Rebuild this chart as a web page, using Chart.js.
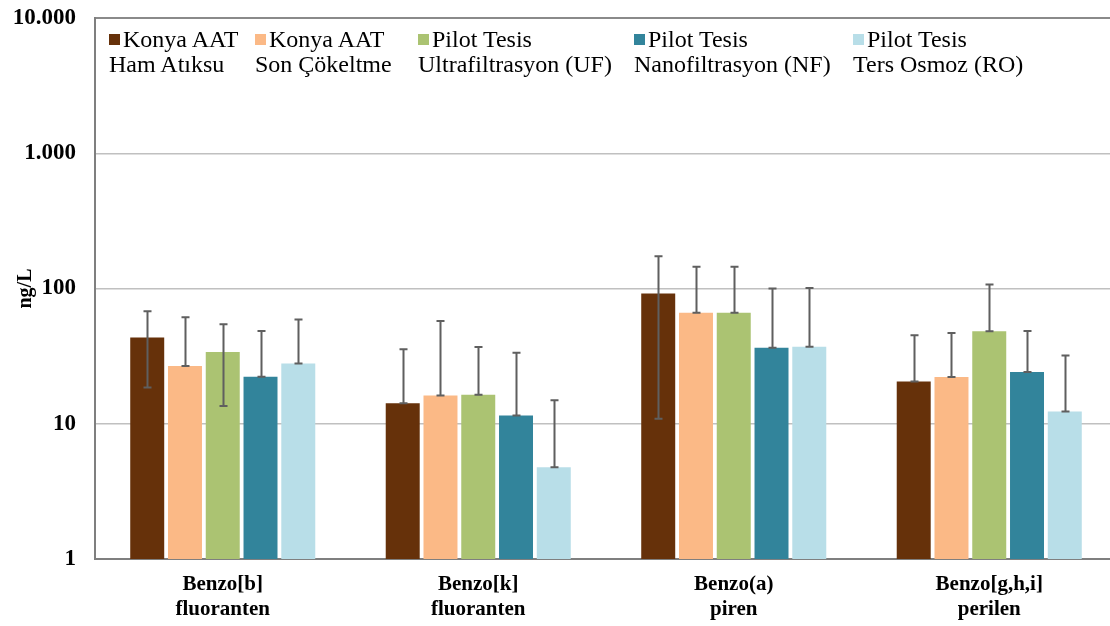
<!DOCTYPE html>
<html>
<head>
<meta charset="utf-8">
<script src="https://cdn.jsdelivr.net/npm/chart.js@4"></script>
<style>
  html, body { margin: 0; padding: 0; background: #fff; overflow: hidden; }
  #wrap { position: relative; width: 1110px; height: 626px; overflow: hidden; }
  canvas { position: absolute; left: 0; top: 0; }
  .lg { position: absolute; font-family: "Liberation Serif", "Times New Roman", serif; font-size: 24px; line-height: 25px; color: #000; white-space: nowrap; }
  .sw { display: inline-block; width: 11px; height: 11px; margin-right: 3px; vertical-align: 2px; }
</style>
</head>
<body>
<div id="wrap">
  <canvas id="c" width="1117" height="626" style="width:1117px;height:626px"></canvas>
</div>
<script>
// ---- data ----
const categories = [["Benzo[b]", "fluoranten"], ["Benzo[k]", "fluoranten"], ["Benzo(a)", "piren"], ["Benzo[g,h,i]", "perilen"]];
const seriesLine1 = ["Konya AAT", "Konya AAT", "Pilot Tesis", "Pilot Tesis", "Pilot Tesis"];
const seriesLine2 = ["Ham Atıksu", "Son Çökeltme", "Ultrafiltrasyon (UF)", "Nanofiltrasyon (NF)", "Ters Osmoz (RO)"];
const hamAtiksu   = [43.5, 14.2, 91.8, 20.5];
const sonCokeltme = [26.7, 16.2, 66.2, 22.2];
const ultraFilt   = [33.9, 16.4, 66.2, 48.2];
const nanoFilt    = [22.3, 11.5, 36.5, 24.1];
const tersOsmoz   = [27.9, 4.77, 37.1, 12.3];
// error bar ends (upper / lower; null = lower end hidden at bar top)
const hamAtiksuHi   = [68, 35.6, 173, 45.2];
const hamAtiksuLo   = [18.5, null, 10.9, null];
const sonCokeltmeHi = [61.4, 57.4, 144.6, 46.8];
const sonCokeltmeLo = [null, null, null, null];
const ultraFiltHi   = [54.5, 36.9, 144.6, 107];
const ultraFiltLo   = [13.5, null, null, null];
const nanoFiltHi    = [48.4, 33.5, 100, 48.4];
const nanoFiltLo    = [null, null, null, null];
const tersOsmozHi   = [59, 14.9, 101, 31.9];
const tersOsmozLo   = [null, null, null, null];
const yTickValues = [1, 10, 100, 1000, 10000];
const yTickLabels = ["1", "10", "100", "1.000", "10.000"];

// ---- styling ----
const colors = ["#66310A", "#FBB986", "#ABC372", "#32849B", "#B8DEE8"];
const legendX = [109, 255, 418, 634, 853];

const values = [hamAtiksu, sonCokeltme, ultraFilt, nanoFilt, tersOsmoz];
const errHi = [hamAtiksuHi, sonCokeltmeHi, ultraFiltHi, nanoFiltHi, tersOsmozHi];
const errLo = [hamAtiksuLo, sonCokeltmeLo, ultraFiltLo, nanoFiltLo, tersOsmozLo];

const errorBars = {
  id: 'errorBars',
  afterDatasetsDraw(chart) {
    const ctx = chart.ctx, ys = chart.scales.y;
    ctx.save();
    ctx.strokeStyle = '#5f5f5f';
    ctx.lineWidth = 2;
    chart.data.datasets.forEach((ds, i) => {
      const meta = chart.getDatasetMeta(i);
      meta.data.forEach((bar, j) => {
        const x = Math.round(bar.x) + 0.5;
        const yHi = ys.getPixelForValue(errHi[i][j]);
        const yLo = errLo[i][j] == null ? bar.y : ys.getPixelForValue(errLo[i][j]);
        ctx.beginPath();
        ctx.moveTo(x, yHi); ctx.lineTo(x, yLo);
        ctx.moveTo(x - 4, yHi); ctx.lineTo(x + 4, yHi);
        ctx.moveTo(x - 4, yLo); ctx.lineTo(x + 4, yLo);
        ctx.stroke();
      });
    });
    ctx.restore();
  }
};

new Chart(document.getElementById('c'), {
  type: 'bar',
  data: {
    labels: categories,
    datasets: values.map((v, i) => ({
      label: seriesLine1[i] + ' ' + seriesLine2[i],
      data: v,
      backgroundColor: colors[i],
      borderWidth: 0,
      categoryPercentage: 0.739,
      barPercentage: 0.9
    }))
  },
  options: {
    responsive: false,
    animation: false,
    layout: { padding: { left: 0, right: 0, top: 18, bottom: 0 } },
    plugins: { legend: { display: false }, tooltip: { enabled: false } },
    scales: {
      x: {
        afterFit(s) { s.height = 67; s.paddingLeft = 0; s.paddingRight = 0; },
        grid: { display: false, drawTicks: false },
        border: { color: '#7f7f7f', width: 2 },
        ticks: {
          padding: 14,
          color: '#000',
          font: { family: '"Liberation Serif", serif', size: 21, weight: 'bold', lineHeight: 1.15 }
        }
      },
      y: {
        type: 'logarithmic',
        min: 1,
        max: 10000,
        afterFit(s) { s.width = 95; s.paddingTop = 0; s.paddingBottom = 0; },
        afterBuildTicks(s) { s.ticks = yTickValues.map(v => ({ value: v })); },
        grid: {
          drawTicks: false,
          color: (c) => c.tick && c.tick.value === 10000 ? '#8a8a8a' : '#c0c0c0',
          lineWidth: (c) => c.tick && c.tick.value === 10000 ? 2 : 1.5
        },
        border: { color: '#7f7f7f', width: 2 },
        ticks: {
          padding: 19,
          color: '#000',
          font: { family: '"Liberation Serif", serif', size: 23, weight: 'bold' },
          callback: (v) => { const k = yTickValues.indexOf(v); return k >= 0 ? yTickLabels[k] : ''; }
        },
        title: {
          display: true,
          text: 'ng/L',
          color: '#000',
          padding: { top: 14, bottom: 0 },
          font: { family: '"Liberation Serif", serif', size: 20, weight: 'bold' }
        }
      }
    }
  },
  plugins: [errorBars]
});

// legend (HTML, real text)
const wrap = document.getElementById('wrap');
seriesLine1.forEach((t, i) => {
  const d = document.createElement('div');
  d.className = 'lg';
  d.style.left = legendX[i] + 'px';
  d.style.top = '27px';
  const sw = document.createElement('span');
  sw.className = 'sw';
  sw.style.background = colors[i];
  d.appendChild(sw);
  d.appendChild(document.createTextNode(t));
  d.appendChild(document.createElement('br'));
  d.appendChild(document.createTextNode(seriesLine2[i]));
  wrap.appendChild(d);
});
</script>
</body>
</html>
